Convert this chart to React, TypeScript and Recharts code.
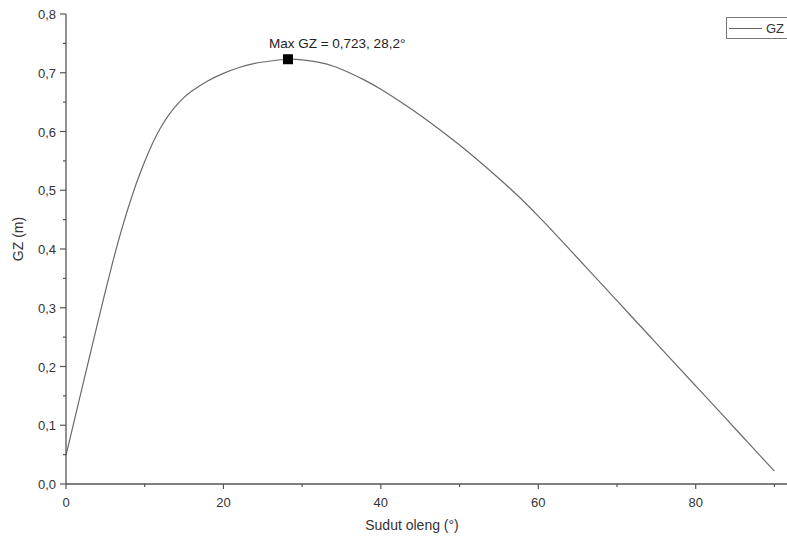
import { ComposedChart, Line, XAxis, YAxis, ReferenceDot } from 'recharts';

// heel angle (deg) and righting arm GZ (m)
const angles = [
  0, 1, 2, 3, 4, 5, 6, 7, 8, 9, 10, 11, 12, 13, 14, 15, 16, 18, 20, 22, 24, 26, 28.2,
  30, 32, 34, 36, 38, 40, 42, 44, 46, 48, 50, 52, 54, 56, 58, 60, 62, 64, 66, 68,
  70, 72, 74, 76, 78, 80, 82, 84, 86, 88, 90,
];
const gzValues = [
  0.049, 0.105, 0.161, 0.217, 0.273, 0.328, 0.381, 0.43, 0.474, 0.514, 0.549, 0.58,
  0.606, 0.627, 0.644, 0.658, 0.669, 0.686, 0.699, 0.709, 0.716, 0.72, 0.723,
  0.722, 0.718, 0.711, 0.7, 0.687, 0.672, 0.655, 0.637, 0.618, 0.598, 0.577, 0.555,
  0.532, 0.508, 0.483, 0.456, 0.428, 0.399, 0.37, 0.341,
  0.312, 0.283, 0.254, 0.225, 0.196, 0.167, 0.138, 0.109, 0.08, 0.051, 0.022,
];
const xTicks = [0, 10, 20, 30, 40, 50, 60, 70, 80, 90];
const yTicks = [0, 0.05, 0.1, 0.15, 0.2, 0.25, 0.3, 0.35, 0.4, 0.45, 0.5, 0.55, 0.6, 0.65, 0.7, 0.75, 0.8];
const maxAngle = 28.2;
const maxGz = 0.723;

const data = angles.map((a, i) => ({ angle: a, gz: gzValues[i] }));

const FONT = '"Liberation Sans", Arial, sans-serif';
const AXIS = '#555';
const TEXT = '#333';

const comma = (v: number, d: number) => v.toFixed(d).replace('.', ',');

function XTick(props: any) {
  const { x, y, payload } = props;
  const major = payload.value % 20 === 0;
  return (
    <g>
      <line x1={x} x2={x} y1={y} y2={y + (major ? 5 : 3)} stroke={AXIS} strokeWidth={1.2} />
      {major && (
        <text x={x} y={y + 23} textAnchor="middle" fontSize={13} fill={TEXT} fontFamily={FONT}>
          {payload.value}
        </text>
      )}
    </g>
  );
}

function YTick(props: any) {
  const { x, y, payload, index } = props;
  const major = index % 2 === 0;
  return (
    <g>
      <line x1={x - (major ? 6 : 3)} x2={x} y1={y} y2={y} stroke={AXIS} strokeWidth={1.2} />
      {major && (
        <text x={x - 10} y={y + 5} textAnchor="end" fontSize={13} fill={TEXT} fontFamily={FONT}>
          {comma(payload.value, 1)}
        </text>
      )}
    </g>
  );
}

function MaxMarker(props: any) {
  const { cx, cy } = props;
  return (
    <g>
      <rect x={cx - 5} y={cy - 5} width={10} height={10} fill="#000" />
      <text x={cx - 19} y={cy - 11} fontSize={13.5} fill="#222" fontFamily={FONT}>
        {`Max GZ = ${comma(maxGz, 3)}, ${comma(maxAngle, 1)}°`}
      </text>
    </g>
  );
}

function LegendBox() {
  return (
    <div
      style={{
        position: 'absolute',
        top: 17,
        left: 726,
        border: '1.5px solid #777',
        width: 70,
        height: 20,
        display: 'flex',
        alignItems: 'center',
        fontFamily: FONT,
        fontSize: 13,
        color: TEXT,
        background: '#fff',
      }}
    >
      <span style={{ display: 'inline-block', width: 33, height: 0, borderTop: '1px solid #666', marginLeft: 2, marginRight: 4 }} />
      GZ
    </div>
  );
}

export default function App() {
  return (
    <div style={{ position: 'fixed', left: 0, top: 0, width: 787, height: 542, overflow: 'hidden', background: '#fff' }}>
      <ComposedChart
        width={787}
        height={542}
        data={data}
        margin={{ top: 14, right: 0, bottom: 0, left: 0 }}
      >
        <XAxis
          dataKey="angle"
          type="number"
          domain={[0, 91.6]}
          ticks={xTicks}
          interval={0}
          height={58}
          axisLine={{ stroke: AXIS, strokeWidth: 1.3 }}
          tickLine={false}
          tickSize={0}
          tickMargin={0}
          tick={<XTick />}
          label={{
            content: ({ viewBox }: any) => (
              <text x={viewBox.x + 346} y={viewBox.y + 46} textAnchor="middle" fontSize={14} fill={TEXT} fontFamily={FONT}>
                Sudut oleng (°)
              </text>
            ),
          }}
        />
        <YAxis
          type="number"
          domain={[0, 0.8]}
          ticks={yTicks}
          interval={0}
          width={66}
          axisLine={{ stroke: AXIS, strokeWidth: 1.3 }}
          tickLine={false}
          tickSize={0}
          tickMargin={0}
          tick={<YTick />}
          label={{
            content: ({ viewBox }: any) => {
              const cx = 18;
              const cy = viewBox.y + viewBox.height / 2 - 10;
              return (
                <text x={cx} y={cy} transform={`rotate(-90 ${cx} ${cy})`} textAnchor="middle" dominantBaseline="central" fontSize={14} fill={TEXT} fontFamily={FONT}>
                  GZ (m)
                </text>
              );
            },
          }}
        />
        <Line
          type="natural"
          dataKey="gz"
          name="GZ"
          stroke="#6a6a6a"
          strokeWidth={1.2}
          dot={false}
          isAnimationActive={false}
        />
        <ReferenceDot x={maxAngle} y={maxGz} shape={<MaxMarker />} ifOverflow="visible" />
      </ComposedChart>
      <LegendBox />
    </div>
  );
}
